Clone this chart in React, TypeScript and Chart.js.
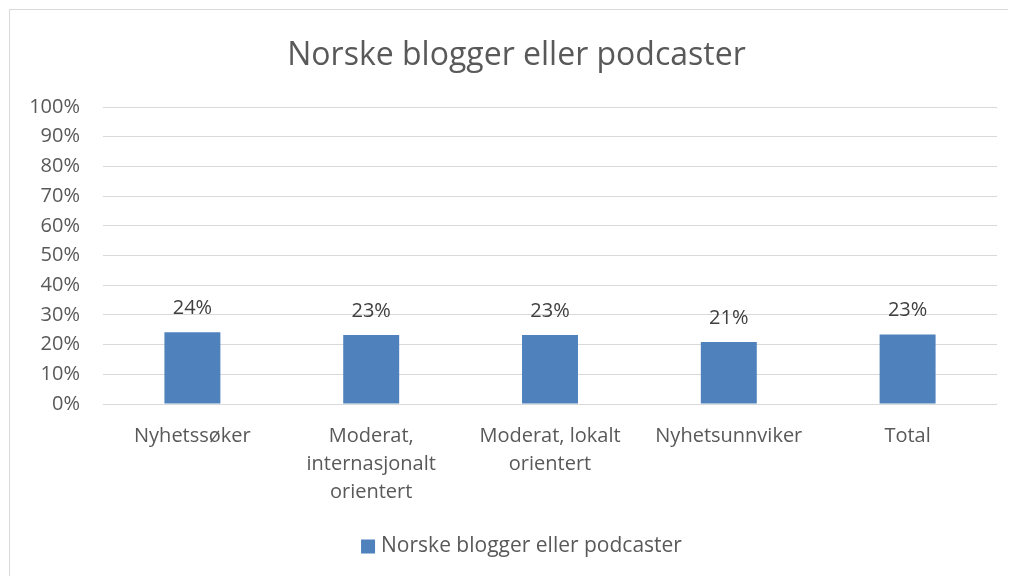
import React, { useEffect, useRef } from "react";
import { Chart, registerables } from "chart.js";

Chart.register(...registerables);

const title = "Norske blogger eller podcaster";
const seriesName = "Norske blogger eller podcaster";
const categories: (string | string[])[] = [
  "Nyhetssøker",
  ["Moderat,", "internasjonalt", "orientert"],
  ["Moderat, lokalt", "orientert"],
  "Nyhetsunnviker",
  "Total",
];
const values = [24.2, 23.2, 23.2, 20.9, 23.4];
const yTicks = [0, 10, 20, 30, 40, 50, 60, 70, 80, 90, 100];

const FONT = "'Open Sans', 'Noto Sans', sans-serif";
const BAR = "#4F81BD";
const TEXT = "#595959";
const GRID = "#d9d9d9";

const dataLabels = {
  id: "dataLabels",
  afterDatasetsDraw(chart: any) {
    const ctx = chart.ctx;
    const meta = chart.getDatasetMeta(0);
    ctx.save();
    ctx.font = `20px ${FONT}`;
    ctx.fillStyle = "#404040";
    ctx.textAlign = "center";
    ctx.textBaseline = "middle";
    meta.data.forEach((el: any, i: number) => {
      const v = chart.data.datasets[0].data[i] as number;
      ctx.fillText(`${Math.round(v)}%`, el.x, el.y - 24);
    });
    ctx.restore();
  },
};

const titleAndLegend = {
  id: "titleAndLegend",
  afterDraw(chart: any) {
    const ctx = chart.ctx;
    ctx.save();
    // title
    ctx.font = `32px ${FONT}`;
    ctx.fillStyle = TEXT;
    ctx.textAlign = "center";
    ctx.textBaseline = "alphabetic";
    ctx.fillText(title, 506.5, 55);
    // legend
    ctx.font = `21px ${FONT}`;
    const tw = ctx.measureText(seriesName).width;
    const total = 14 + 6 + tw;
    const x0 = 511.5 - total / 2;
    const cy = 536.5;
    ctx.fillStyle = chart.data.datasets[0].backgroundColor;
    ctx.fillRect(x0, cy - 7, 14, 14);
    ctx.fillStyle = TEXT;
    ctx.textAlign = "left";
    ctx.textBaseline = "middle";
    ctx.fillText(seriesName, x0 + 20, cy);
    ctx.restore();
  },
};

export default function App() {
  const ref = useRef<HTMLCanvasElement | null>(null);
  useEffect(() => {
    if (!ref.current) return;
    const chart = new Chart(ref.current, {
      type: "bar",
      data: {
        labels: categories,
        datasets: [
          {
            label: seriesName,
            data: values,
            backgroundColor: BAR,
            borderWidth: 0,
            categoryPercentage: 1,
            barPercentage: 0.313,
          },
        ],
      },
      options: {
        animation: false,
        responsive: false,
        maintainAspectRatio: false,
        layout: { padding: { top: 97, right: 13, bottom: 50, left: 0 } },
        plugins: {
          title: { display: false },
          legend: { display: false },
          tooltip: { enabled: false },
        },
        scales: {
          x: {
            grid: { display: false, drawTicks: false },
            border: { display: false },
            ticks: {
              color: TEXT,
              font: { family: FONT, size: 20, lineHeight: 1.4 },
              padding: 18,
              maxRotation: 0,
              autoSkip: false,
            },
            afterFit(scale: any) {
              scale.height = 121;
            },
          },
          y: {
            min: 0,
            max: 100,
            afterBuildTicks(scale: any) {
              scale.ticks = yTicks.map((v) => ({ value: v }));
            },
            grid: { color: GRID, lineWidth: 1, drawTicks: false },
            border: { display: false },
            ticks: {
              color: TEXT,
              font: { family: FONT, size: 20 },
              padding: 23,
              callback: (v: any) => `${v}%`,
            },
            afterFit(scale: any) {
              scale.width = 93;
            },
          },
        },
      },
      plugins: [dataLabels, titleAndLegend],
    });
    return () => chart.destroy();
  }, []);
  return (
    <div
      style={{
        margin: "1px 0 0 1px",
        borderLeft: `1px solid ${GRID}`,
        borderTop: `1px solid ${GRID}`,
        height: 566,
        background: "#fff",
      }}
    >
      <canvas ref={ref} width={1000} height={565} style={{ display: "block" }} />
    </div>
  );
}
